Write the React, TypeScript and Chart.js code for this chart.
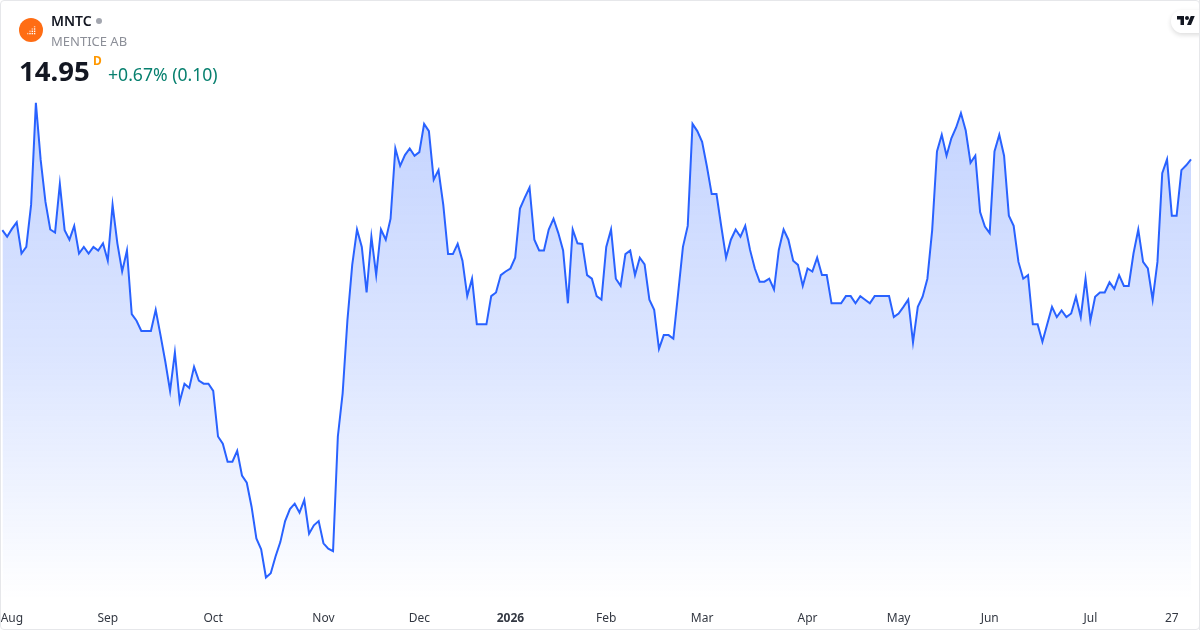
import { useEffect, useRef } from 'react';
import { Chart, registerables } from 'chart.js';

Chart.register(...registerables);

const closes = [
  13.77, 13.66, 13.79, 13.9, 13.38, 13.49, 14.19, 15.89, 14.94, 14.24,
  13.78, 13.73, 14.54, 13.77, 13.61, 13.84, 13.38, 13.49, 13.38, 13.49,
  13.43, 13.55, 13.26, 14.19, 13.55, 13.08, 13.43, 12.37, 12.26, 12.09,
  12.09, 12.09, 12.44, 12.02, 11.58, 11.09, 11.73, 10.91, 11.21, 11.14,
  11.49, 11.26, 11.21, 11.21, 11.09, 10.33, 10.21, 9.91, 9.91, 10.09,
  9.68, 9.56, 9.16, 8.63, 8.45, 7.98, 8.05, 8.33, 8.57, 8.92,
  9.12, 9.21, 9.06, 9.27, 8.71, 8.85, 8.92, 8.55, 8.46, 8.42,
  10.33, 11.05, 12.27, 13.19, 13.78, 13.49, 12.73, 13.66, 13.02, 13.78,
  13.61, 13.96, 15.13, 14.84, 15.02, 15.13, 15.01, 15.07, 15.54, 15.42,
  14.61, 14.77, 14.19, 13.37, 13.37, 13.54, 13.26, 12.67, 12.96, 12.2,
  12.2, 12.2, 12.67, 12.73, 13.02, 13.08, 13.13, 13.31, 14.13, 14.31,
  14.48, 13.61, 13.43, 13.43, 13.78, 13.96, 13.72, 13.43, 12.55, 13.78,
  13.55, 13.54, 13.02, 12.96, 12.67, 12.61, 13.49, 13.78, 12.96, 12.84,
  13.37, 13.43, 13.02, 13.31, 13.2, 12.61, 12.44, 11.79, 12.02, 12.02,
  11.96, 12.72, 13.49, 13.84, 15.54, 15.42, 15.24, 14.83, 14.37, 14.37,
  13.83, 13.31, 13.61, 13.78, 13.66, 13.84, 13.44, 13.13, 12.91, 12.91,
  12.96, 12.78, 13.44, 13.78, 13.61, 13.26, 13.19, 12.84, 13.13, 13.08,
  13.31, 13.02, 13.02, 12.55, 12.55, 12.55, 12.67, 12.67, 12.55, 12.67,
  12.61, 12.55, 12.67, 12.67, 12.67, 12.67, 12.32, 12.38, 12.49, 12.61,
  11.9, 12.49, 12.66, 12.96, 13.77, 15.08, 15.36, 15.01, 15.3, 15.48,
  15.72, 15.43, 14.89, 15.01, 14.07, 13.83, 13.72, 15.08, 15.36, 15.01,
  14.01, 13.84, 13.24, 12.96, 13.02, 12.2, 12.2, 11.91, 12.2, 12.49,
  12.32, 12.43, 12.32, 12.38, 12.66, 12.32, 12.96, 12.26, 12.66, 12.73,
  12.73, 12.9, 12.79, 13.02, 12.84, 12.84, 13.38, 13.78, 13.24, 13.13,
  12.61, 13.24, 14.72, 14.95, 14.01, 14.01, 14.77, 14.85, 14.95,
];

const tickLabels = ['Aug', 'Sep', 'Oct', 'Nov', 'Dec', '2026', 'Feb', 'Mar', 'Apr', 'May', 'Jun', 'Jul', '27'];
const tickIndexes = [2, 22, 44, 67, 87, 106, 126, 146, 168, 187, 206, 227, 244];

const labels = closes.map((_, i) => {
  const at = tickIndexes.indexOf(i);
  return at >= 0 ? tickLabels[at] : '';
});

const FONT = '"Noto Sans", sans-serif';

export default function App() {
  const chartRef = useRef<HTMLCanvasElement | null>(null);

  useEffect(() => {
    document.body.style.margin = '0';
    const ctx = chartRef.current?.getContext('2d');
    if (!ctx) return;

    const chart = new Chart(ctx, {
      type: 'line',
      data: {
        labels,
        datasets: [
          {
            data: closes,
            borderColor: '#2962ff',
            borderWidth: 2,
            pointRadius: 0,
            tension: 0,
            fill: 'start',
            backgroundColor: (c: any) => {
              const area = c.chart.chartArea;
              if (!area) return 'rgba(41,98,255,0.2)';
              const g = c.chart.ctx.createLinearGradient(0, area.top, 0, area.bottom);
              g.addColorStop(0, 'rgba(41,98,255,0.32)');
              g.addColorStop(0.6, 'rgba(41,98,255,0.16)');
              g.addColorStop(1, 'rgba(41,98,255,0)');
              return g;
            },
          },
        ],
      },
      options: {
        animation: false,
        responsive: false,
        layout: { padding: { left: 2.33, right: 9, top: 0, bottom: 0 } },
        plugins: { legend: { display: false }, tooltip: { enabled: false } },
        scales: {
          x: {
            type: 'category',
            grid: { display: false },
            border: { display: false },
            afterFit: (scale: any) => {
              scale.height = 30;
              scale.paddingLeft = 0;
              scale.paddingRight = 0;
            },
            ticks: {
              autoSkip: false,
              maxRotation: 0,
              minRotation: 0,
              padding: 3,
              color: '#333842',
              font: (c: any) => ({
                family: FONT,
                size: 12,
                weight: c.tick?.label === '2026' ? 'bold' : 'normal',
              }),
            },
          },
          y: { display: false, min: 7.605, max: 17.605 },
        },
      },
    });

    return () => chart.destroy();
  }, []);

  return (
    <div style={{ position: 'fixed', left: 0, top: 0, width: 1200, height: 630, background: '#fff', overflow: 'hidden', fontFamily: FONT }}>
      <canvas ref={chartRef} width={1200} height={630} style={{ position: 'absolute', left: 0, top: 0 }} />
      <div style={{ position: 'absolute', left: 0, top: 0, width: 1198, height: 628, border: '1px solid #e6e7ea', borderRadius: 4 }} />

      <div style={{ position: 'absolute', left: 19, top: 18, width: 24, height: 24, borderRadius: 12, background: '#ff6d14' }}>
        {/* logo: little stairs of dots rising to the right */}
        <svg width="24" height="24" viewBox="0 0 24 24" style={{ display: 'block' }}>
          {[0, 1, 2, 3].flatMap((row) =>
            [0, 1, 2, 3].map((col) =>
              col + row >= 3 ? (
                <rect key={`${col}-${row}`} x={8 + col * 2.3} y={8 + row * 2.3} width="1.4" height="1.4" fill="#fff" opacity={col + row === 3 ? 0.6 : 1} />
              ) : null,
            ),
          )}
        </svg>
      </div>
      <div style={{ position: 'absolute', left: 51, top: 12, fontSize: 14, lineHeight: '18px', fontWeight: 600, color: '#131722' }}>MNTC</div>
      <div style={{ position: 'absolute', left: 96, top: 18, width: 6, height: 6, borderRadius: 3, background: '#a3a6af' }} />
      <div style={{ position: 'absolute', left: 51, top: 32, fontSize: 13, lineHeight: '18px', color: '#8c8f98' }}>MENTICE AB</div>
      <div style={{ position: 'absolute', left: 19, top: 52, fontSize: 27.5, lineHeight: '38px', fontWeight: 700, color: '#131722' }}>14.95</div>
      <div style={{ position: 'absolute', left: 93, top: 53, fontSize: 12, lineHeight: '15px', fontWeight: 700, color: '#ff9800' }}>D</div>
      <div style={{ position: 'absolute', left: 108, top: 63, fontSize: 17.6, lineHeight: '23px', color: '#08806f' }}>+0.67% (0.10)</div>

      <div style={{ position: 'absolute', left: 1171, top: 10, width: 40, height: 23, borderRadius: 12, background: '#fff', boxShadow: '0 2px 5px rgba(0,0,0,0.14)' }} />
      <svg style={{ position: 'absolute', left: 1177, top: 14 }} width="18" height="14" viewBox="0 0 36 28">
        <path d="M14 22H7V11H0V4h14v18zM28 22h-8l7.5-18h8L28 22z" fill="#131722" />
        <circle cx="20" cy="8" r="4" fill="#131722" />
      </svg>
      <div style={{ position: 'absolute', left: 1199, top: 0, width: 1, height: 630, background: '#e6e7ea' }} />
    </div>
  );
}
